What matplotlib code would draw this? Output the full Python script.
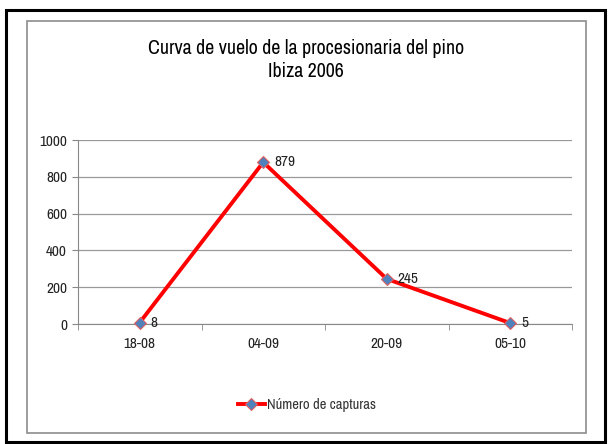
import matplotlib
matplotlib.use("Agg")
import matplotlib.pyplot as plt
from matplotlib.patches import Rectangle

categories = ["18-08", "04-09", "20-09", "05-10"]
capturas = [8, 879, 245, 5]
yticks = [0, 200, 400, 600, 800, 1000]
title = "Curva de vuelo de la procesionaria del pino\nIbiza 2006"
series_name = "Número de capturas"

plt.rcParams['font.family'] = ["Archivo Narrow", "DejaVu Sans"]

W, H = 608, 444
fig = plt.figure(figsize=(W / 100, H / 100), dpi=100)

def frect(x0, y0, x1, y1, **kw):
    fig.patches.append(Rectangle((x0 / W, 1 - y1 / H), (x1 - x0) / W, (y1 - y0) / H,
                                 transform=fig.transFigure, fill=False, **kw))

# outer black border and inner gray frame
frect(6, 10, 605, 442, edgecolor="black", linewidth=2.2)
frect(27, 21, 586, 433, edgecolor="#8c8c8c", linewidth=1.2)

left, right, top, bottom = 78, 572, 140, 324
ax = fig.add_axes([left / W, 1 - bottom / H, (right - left) / W, (bottom - top) / H])

x = list(range(len(categories)))
ax.plot(x, capturas, color="#FF0000", linewidth=2.8, marker="D", markersize=6.5,
        markerfacecolor="#4F81BD", markeredgecolor="#E06060", markeredgewidth=0.8,
        label=series_name, zorder=3, clip_on=False)
for xi, v in zip(x, capturas):
    ax.annotate(str(v), (xi, v), xytext=(8, 0), textcoords="offset points",
                ha="left", va="center", fontsize=11, color="#222222")

ax.set_xlim(-0.5, len(categories) - 0.5)
ax.set_ylim(0, 1000)
ax.set_yticks(yticks)
ax.set_xticks(x)
ax.set_xticklabels(categories)
ax.set_xticks([i - 0.5 for i in range(len(categories) + 1)], minor=True)
ax.tick_params(axis="x", which="major", length=0, pad=9, labelsize=11, labelcolor="#222222")
ax.tick_params(axis="x", which="minor", length=4, color="#888888")
ax.tick_params(axis="y", length=4, color="#888888", labelsize=11, labelcolor="#222222", pad=4)
ax.grid(axis="y", color="#999999", linewidth=0.9)
ax.set_axisbelow(True)
for s in ["top", "right"]:
    ax.spines[s].set_visible(False)
for s in ["left", "bottom"]:
    ax.spines[s].set_color("#888888")

fig.text(306 / W, 1 - 60 / H, title, ha="center", va="center", fontsize=14.3,
         linespacing=1.3, color="black")

leg = fig.legend(loc="center", bbox_to_anchor=(307 / W, 1 - 405 / H), frameon=False,
                 fontsize=10.5, handlelength=1.8, handletextpad=0.15)
for t in leg.get_texts():
    t.set_color("#333333")

fig.savefig("out.png", dpi=100)
